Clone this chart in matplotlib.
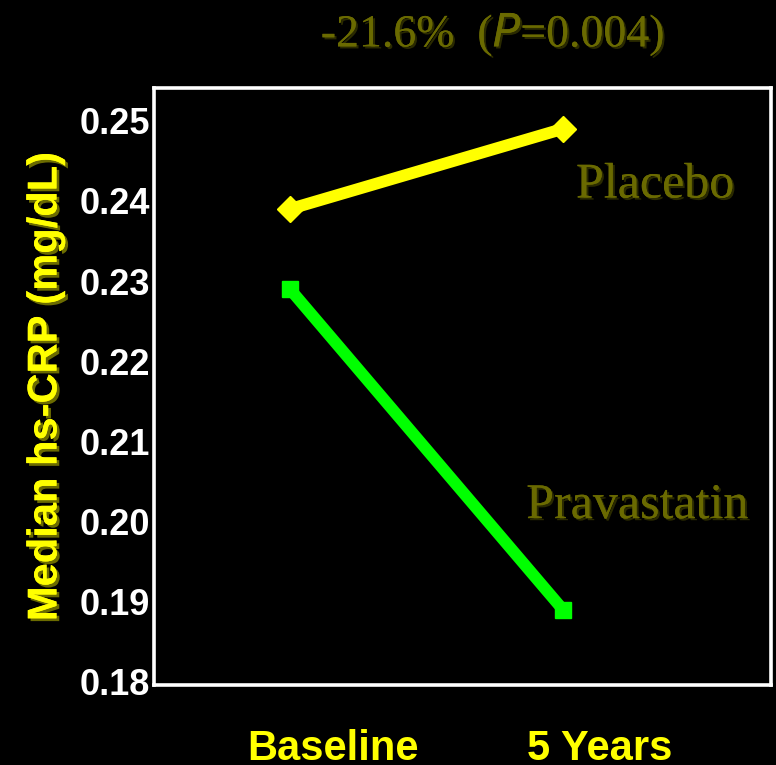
import matplotlib
matplotlib.use("Agg")
import matplotlib.pyplot as plt
import matplotlib.patheffects as pe

# Median hs-CRP at baseline and after 5 years
timepoints = ["Baseline", "5 Years"]
placebo = [0.239, 0.249]
pravastatin = [0.229, 0.189]
ytick_values = [0.18, 0.19, 0.20, 0.21, 0.22, 0.23, 0.24, 0.25]
ytick_labels = ["0.18", "0.19", "0.20", "0.21", "0.22", "0.23", "0.24", "0.25"]
change_text = "-21.6%  ($\\it{P}$=0.004)"

YELLOW = "#ffff00"
GREEN = "#00ff00"
OLIVE = "#6a6a00"

fig = plt.figure(figsize=(7.76, 7.65), dpi=100, facecolor="black")
ax = fig.add_axes([0.1985, 0.1046, 0.795, 0.7804], facecolor="black")

x = [0, 1]
ax.plot(x, placebo, color=YELLOW, lw=8.5, marker="D", ms=13, mec=YELLOW,
        mfc=YELLOW, solid_capstyle="butt")
ax.plot(x, pravastatin, color=GREEN, lw=8.5, marker="s", ms=11, mec=GREEN,
        mfc=GREEN, solid_capstyle="butt")

ax.set_xlim(-0.498, 1.762)
ax.set_ylim(0.1796, 0.2541)

for s in ax.spines.values():
    s.set_color("white")
    s.set_linewidth(2.6)

ax.set_yticks(ytick_values)
ax.set_yticklabels(ytick_labels, family="Liberation Sans", weight="bold",
                   fontsize=26, color="white")
ax.tick_params(axis="y", length=0, pad=3)

# category labels sit slightly right of the data points
ax.set_xticks([0.157, 1.135])
ax.set_xticklabels(timepoints, family="Liberation Sans", weight="bold",
                   fontsize=30, color=YELLOW)
ax.tick_params(axis="x", length=0, pad=32)

shadow_y = [pe.withSimplePatchShadow(offset=(2, -2), shadow_rgbFace="#6b6b00",
                                     alpha=1.0), pe.Normal()]
ax.set_ylabel("Median hs-CRP (mg/dL)", family="Liberation Sans", weight="bold",
              fontsize=30, color=YELLOW, labelpad=10, path_effects=shadow_y)

shadow_t = [pe.withSimplePatchShadow(offset=(1.5, -1.5), shadow_rgbFace="#2a2a00",
                                     alpha=1.0), pe.Normal()]
serif = "Liberation Serif"
ax.text(0.812, 0.837, "Placebo", transform=ax.transAxes, family=serif,
        fontsize=36, color=OLIVE, ha="center", va="center", path_effects=shadow_t)
ax.text(0.783, 0.30, "Pravastatin", transform=ax.transAxes, family=serif,
        fontsize=36, color=OLIVE, ha="center", va="center", path_effects=shadow_t)
fig.text(0.635, 0.955, change_text, family=serif, fontsize=33, color=OLIVE,
         ha="center", va="center", path_effects=shadow_t)

fig.savefig("out.png", dpi=100, facecolor="black")
